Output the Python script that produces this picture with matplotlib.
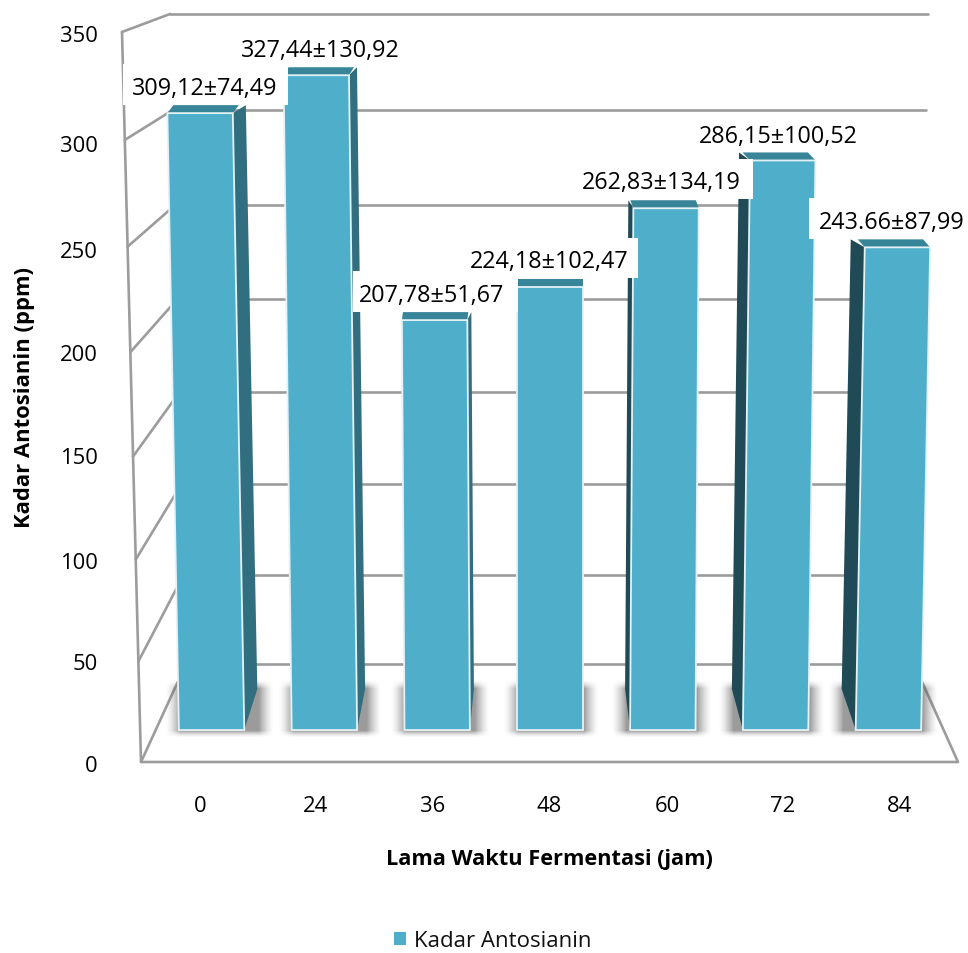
import numpy as np
import matplotlib
matplotlib.use('Agg')
import matplotlib.pyplot as plt
from matplotlib.patches import Patch, Rectangle

plt.rcParams['font.family'] = ['Open Sans', 'DejaVu Sans']

# data
waktu = ['0', '24', '36', '48', '60', '72', '84']
kadar = [309.12, 327.44, 207.78, 224.18, 262.83, 286.15, 243.66]
label_kadar = ['309,12±74,49', '327,44±130,92', '207,78±51,67', '224,18±102,47',
               '262,83±134,19', '286,15±100,52', '243.66±87,99']
y_ticks = [0, 50, 100, 150, 200, 250, 300, 350]

W, H = 968, 954
FRONT = '#4fafcb'
TOP = '#38859a'
SIDE_R = '#316e80'
SIDE_L = '#1f4a56'
GRID = '#9c9c9c'

# perspective of the value axis, in pixels per ppm
S, K = 1.926, 2.25e-4


def forward(v):
    v = np.asarray(v, dtype=float)
    return S * v + K * v * v


def inverse(h):
    h = np.asarray(h, dtype=float)
    return (-S + np.sqrt(S * S + 4 * K * h)) / (2 * K)


def front_y(v):
    v = np.asarray(v, dtype=float)
    return 763 - 2.0 * v - 2.45e-4 * v * v


def back_y(v):
    v = np.asarray(v, dtype=float)
    return 665 - 1.777 * v - 2.29e-4 * v * v


def lean(i, v):
    # bars lean away from the middle of the chart as they get taller
    return 3 + (i - 3) * (1 + 1.1e-4 * v)


fig = plt.figure(figsize=(W / 100, H / 100), dpi=100)

# frame in pixel coordinates: walls, floor and shadows
ax_frame = fig.add_axes([0, 0, 1, 1], zorder=1)
ax_frame.axis('off')
px = ax_frame.transData

# bars, value axis through its own scale
ax = fig.add_axes([0, 0, 1, 1], zorder=2)
ax.patch.set_alpha(0)
ax.axis('off')
ax.set_yscale('function', functions=(forward, inverse))
ax.set_ylim(inverse(731 - H), inverse(731))
ax.set_xlim((0 - 550) / 112.8 + 3, (W - 550) / 112.8 + 3)
ax_frame.set_xlim(0, W)
ax_frame.set_ylim(H, 0)


def to_px(x, v):
    p = ax.transData.transform((x, v))
    return ax_frame.transData.inverted().transform(p)


line_kw = dict(color=GRID, lw=1.9, solid_capstyle='round', zorder=2)

# back wall and left wall lines
for v in y_ticks:
    yb = float(back_y(v))
    yf = float(front_y(v))
    xb = 186 - 16 * (665 - yb) / 650
    xf = 141 - 19 * (763 - yf) / 730
    xr = 914 + 14 * (665 - yb) / 650
    ax_frame.plot([xb, xr], [yb, yb], **line_kw)
    ax_frame.plot([xf, xb], [yf, yb], **line_kw)

# axis and floor
ax_frame.plot([122, 141, 958, 914], [33, 763, 763, 665], **line_kw)

half = 0.29
side_dx = [13, 8, 4, 0, -5, -11, -14]
top_dx = [6, 5, 1, 0, -3, -7.5, -7]

for i, v in enumerate(kadar):
    tl = to_px(lean(i, v) - half, v)
    tr = to_px(lean(i, v) + half, v)
    bl = to_px(lean(i, 0) - half, 0)
    br = to_px(lean(i, 0) + half, 0)
    dx = side_dx[i]

    # soft shadow on the floor
    x0 = min(bl[0], bl[0] + dx) - 14
    x1 = max(br[0], br[0] + dx) + 16
    xs = np.arange(x0, x1)
    ys = np.arange(680, 739)
    sx = np.clip((xs - x0) / 15, 0, 1) * np.clip((x1 - xs) / 15, 0, 1)
    sy = np.clip((ys - 680) / 9, 0, 1) * np.clip((738 - ys) / 7, 0, 1)
    rgba = np.zeros((len(ys), len(xs), 4))
    rgba[..., :3] = 0.35
    rgba[..., 3] = np.outer(sy ** 1.5, sx ** 1.5) * 0.6
    ax_frame.imshow(rgba, extent=(x0, x1, 739, 680), aspect='auto', zorder=3, interpolation='bilinear')

    # side face
    if dx >= 0:
        ax.fill([tr[0], tr[0] + dx, br[0] + dx, br[0]], [tr[1], tr[1] - 8, br[1] - 41, br[1]],
                color=SIDE_R, lw=0, transform=px, zorder=3)
    else:
        ax.fill([tl[0], tl[0] + dx, bl[0] + dx, bl[0]], [tl[1], tl[1] - 8, bl[1] - 41, bl[1]],
                color=SIDE_L, lw=0, transform=px, zorder=3)
    # top face
    ax.fill([tl[0], tl[0] + top_dx[i], tr[0] + top_dx[i], tr[0]], [tl[1], tl[1] - 8, tr[1] - 8, tr[1]],
            color=TOP, lw=0, transform=px, zorder=4)
    # front face
    ax.fill([lean(i, v) - half, lean(i, v) + half, lean(i, 0) + half, lean(i, 0) - half], [v, v, 0, 0],
            facecolor=FRONT, edgecolor='#e4f2f6', lw=1.3, zorder=5)

# value labels sit on white boxes that hide what is behind them
label_pos = [(205, 89), (320, 51), (431, 296), (549, 262), (661, 183), (778, 137), (892, 223)]
label_box = [(123, 65, 288, 106), (232, 30, 408, 68), (353, 272, 518, 313), (460, 239, 638, 279),
             (574, 160, 753, 200), (689, 113, 867, 153), (809, 199, 968, 240)]
for (x0, y0, x1, y1) in label_box:
    ax.add_patch(Rectangle((x0, y0), x1 - x0, y1 - y0, facecolor='white', edgecolor='none',
                           transform=px, zorder=6))
for txt, (x, y) in zip(label_kadar, label_pos):
    ax.text(x, y, txt, transform=px, ha='center', va='center', fontsize=16.8, color='black', zorder=7)

# tick labels
for v, y in zip(y_ticks, [767, 665, 564, 459, 356, 252, 146, 37]):
    ax_frame.text(98, y, str(v), ha='right', va='center', fontsize=15.8, color='black')
for t, x in zip(waktu, [200, 316, 433, 549, 667, 783, 899]):
    ax_frame.text(x, 807, t, ha='center', va='center', fontsize=15.8, color='black')

ax_frame.text(25, 398, 'Kadar Antosianin (ppm)', rotation=90, ha='center', va='center',
              fontsize=15.8, fontweight='bold', color='black')
ax_frame.text(549, 860, 'Lama Waktu Fermentasi (jam)', ha='center', va='center',
              fontsize=15.7, fontweight='bold', color='black')

ax.legend(handles=[Patch(facecolor=FRONT, label='Kadar Antosianin')], loc='center', frameon=False,
          bbox_to_anchor=(493 / W, 1 - 942 / H), fontsize=16, handlelength=0.55, handleheight=0.55,
          handletextpad=0.35, labelcolor='#111111', borderpad=0, borderaxespad=0)

plt.savefig('out.png', dpi=100)
plt.close(fig)
